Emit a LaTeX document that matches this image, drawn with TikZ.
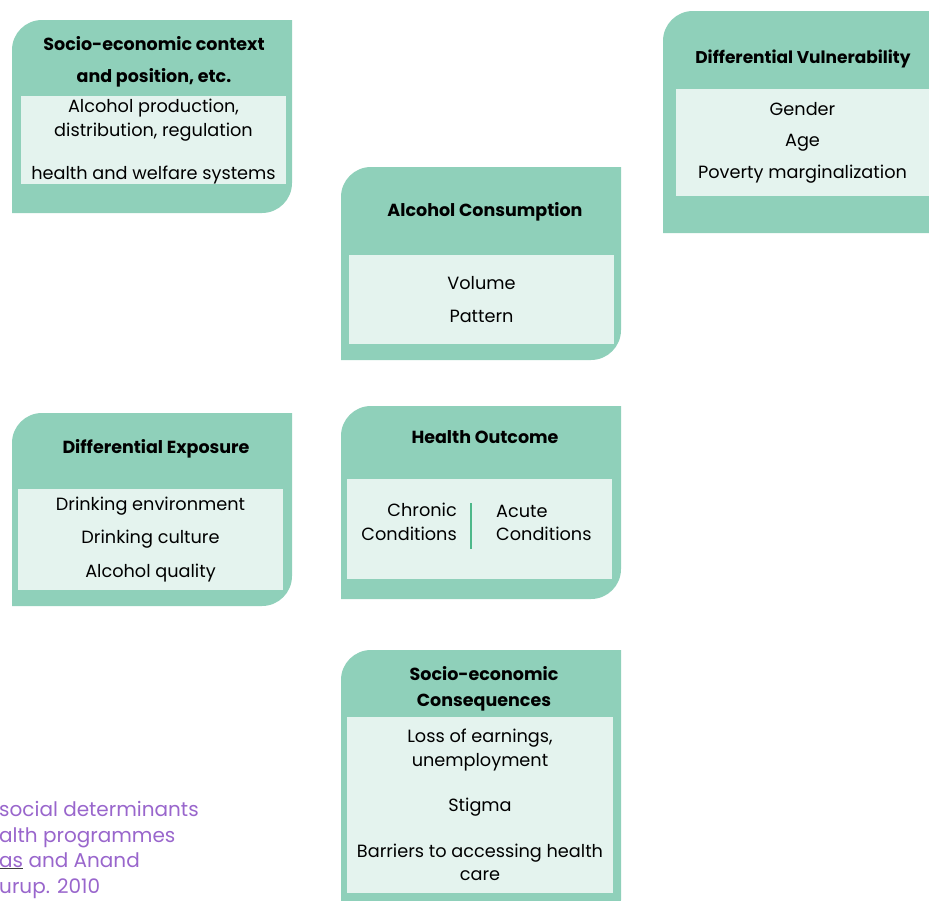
\documentclass[tikz,border=0pt]{standalone}
\usepackage{fontspec}
\setmainfont{Poppins}
\usepackage{tikz}
\usetikzlibrary{positioning, calc}

\definecolor{leafgreen}{RGB}{143,208,186}
\definecolor{panelgreen}{RGB}{228,243,238}
\definecolor{rulegreen}{RGB}{77,184,138}
\definecolor{notepurple}{RGB}{153,102,204}

\tikzset{
  leaf/.style={
    fill=leafgreen
  },
  panel/.style={
    rectangle,
    fill=panelgreen,
    inner sep=0pt,
    align=center,
    font=\fontsize{17.7}{23.5}\selectfont
  },
  boxtitle/.style={
    align=center,
    inner sep=0pt,
    font=\fontsize{17.5}{26}\selectfont\bfseries
  },
  note/.style={
    anchor=base west,
    inner sep=0pt,
    text=notepurple,
    font=\fontsize{20}{24}\selectfont
  }
}

% leaf shaped box: x1, y1, x2, y2 (pixels, y down)
\newcommand{\leafbox}[4]{%
  \fill[leaf] (#1,#4) -- ({#1},{#2+30}) .. controls ({#1},{#2+13.4}) and ({#1+13.4},{#2}) .. ({#1+30},{#2})
    -- (#3,#2) -- ({#3},{#4-30}) .. controls ({#3},{#4-13.4}) and ({#3-13.4},{#4}) .. ({#3-30},{#4}) -- cycle;}

\begin{document}
\begin{tikzpicture}[x=1pt, y=-1pt]

\useasboundingbox (0,0) rectangle (929,900);

% Boxes
\leafbox{12}{20}{292}{213}
\leafbox{663}{11}{959}{233}
\leafbox{341}{167}{621}{360}
\leafbox{12}{413}{292}{606}
\leafbox{341}{406}{621}{599}
\leafbox{341}{650}{621}{930}

% Titles
\node (ctxtitle) [boxtitle, font=\fontsize{17.5}{32}\selectfont\bfseries] at (154,62) {Socio-economic context\\and position, etc.};
\node (vultitle) [boxtitle, font=\fontsize{17}{26}\selectfont\bfseries] at (803,59) {Differential Vulnerability};
\node (contitle) [boxtitle] at (485,212) {Alcohol Consumption};
\node (exptitle) [boxtitle] at (156,449) {Differential Exposure};
\node (outtitle) [boxtitle] at (485,437) {Health Outcome};
\node (seqtitle) [boxtitle] at (484,689) {Socio-economic\\Consequences};

% Panels
\node (ctxpanel) [panel, minimum width=265, minimum height=88] at (153.5,140)
  {\rule{0pt}{17pt}Alcohol production,\\distribution, regulation\\[20pt]health and welfare systems};
\node (vulpanel) [panel, minimum width=270, minimum height=107] at (811,142.5)
  {\hspace*{-17pt}Gender\\[8pt]\hspace*{-17pt}Age\\[8pt]\hspace*{-17pt}Poverty marginalization};
\node (conpanel) [panel, minimum width=265, minimum height=89] at (481.5,299.5)
  {Volume\\[10pt]Pattern};
\node (exppanel) [panel, minimum width=265, minimum height=101] at (150.5,539.5)
  {Drinking environment\\[10pt]Drinking culture\\[10pt]Alcohol quality};
\node (outpanel) [panel, minimum width=265, minimum height=100] at (479.5,529) {};
\node (seqpanel) [panel, minimum width=266, minimum height=176] at (480,805)
  {Loss of earnings,\\unemployment\\[22pt]Stigma\\[22pt]Barriers to accessing health\\care};

% Health outcome columns
\node (chronic) [panel, fill=none, align=right, anchor=east] at (457,522) {Chronic\\Conditions};
\node (acute) [panel, fill=none, align=left, anchor=west] at (496,523) {Acute\\Conditions};
\coordinate (divtop) at (471,503);
\coordinate (divbot) at (471,549);
\draw [rulegreen, line width=2.2pt] (divtop) -- (divbot);

% Source note
\node (note1) [note] at (-1,816) {social determinants};
\node (note2) [note] at (-1,842) {alth programmes};
\node (note3) [note] at (-1,867) {{\color{darkgray}\underline{\textcolor{notepurple}{as}}} and Anand};
\node (note4) [note] at (-1,893) {urup. 2010};

\end{tikzpicture}
\end{document}
